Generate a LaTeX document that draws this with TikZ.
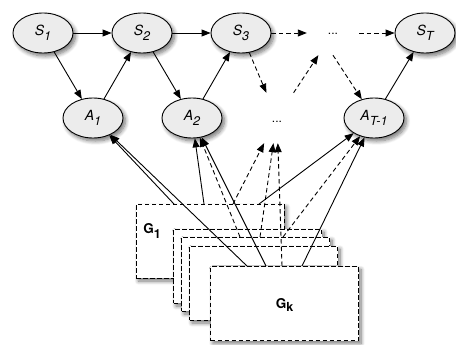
\documentclass[tikz,border=0pt]{standalone}
\usepackage{fontspec}
\setmainfont{TeX Gyre Heros}
\usetikzlibrary{arrows.meta,shapes.geometric,shadows.blur}
\newcommand{\lsub}[2][4.5pt]{\raisebox{-#1}{\fontsize{12.5}{13}\selectfont #2}}
\begin{document}
\begin{tikzpicture}[x=1pt,y=-1pt,
  stnode/.style={ellipse, draw, line width=0.9pt, fill=gray!15,
    minimum width=60pt, minimum height=40pt, inner sep=0pt,
    blur shadow={shadow xshift=2.5pt, shadow yshift=-3pt, shadow blur radius=4pt, shadow blur steps=8, shadow opacity=55},
    font=\fontsize{14}{15}\selectfont\itshape},
  dots/.style={rectangle, inner sep=0pt, font=\fontsize{12}{12}\selectfont},
  gbox/.style={rectangle, draw, dash pattern=on 4.5pt off 2.5pt, line width=1pt,
    fill=white, minimum width=148pt, minimum height=74pt, inner sep=0pt,
    blur shadow={shadow xshift=2.5pt, shadow yshift=-3pt, shadow blur radius=4pt, shadow blur steps=8, shadow opacity=55},
    font=\fontsize{13.5}{14}\selectfont\bfseries},
  glab/.style={inner sep=0pt, font=\fontsize{13.5}{14}\selectfont\bfseries},
  conn/.style={-{Triangle[length=9pt,width=7pt]}, line width=0.9pt},
  dconn/.style={conn, dash pattern=on 4.5pt off 3pt}]
\useasboundingbox (0,0) rectangle (456,345);
% states and actions
\node[stnode] (S1) at (43,33) {S\lsub{1}};
\node[stnode] (S2) at (142,33) {S\lsub{2}};
\node[stnode] (S3) at (241,33) {S\lsub{3}};
\node[dots, minimum width=52pt, minimum height=44pt, text height=4pt, text depth=0pt] (dtop) at (333,33) {...};
\node[stnode] (ST) at (425,33) {S\lsub{T}};
\node[stnode] (A1) at (93,118) {A\lsub{1}};
\node[stnode] (A2) at (192,118) {A\lsub{2}};
\node[dots, minimum width=36pt, minimum height=50pt, text height=10pt, text depth=0pt] (dmid) at (277,118) {...};
\node[stnode] (AT) at (374,118) {A\lsub{T-1}};
% graphs
\node[gbox] (G1) at (210,241) {};
\node[gbox] (R2) at (247.5,266) {};
\node[gbox] (R3) at (255.5,274) {};
\node[gbox] (R4) at (263.5,283) {};
\node[gbox, text height=9pt, text depth=0pt] (GK) at (284.5,303.5) {G\lsub[3pt]{k}};
\node[glab] (G1lab) at (152,231) {G\lsub[5pt]{1}};
% connector start points
\coordinate (g1a) at (174,204);
\coordinate (g1b) at (204,204);
\coordinate (g1c) at (233,204);
\coordinate (g1d) at (259,204);
\coordinate (r3b) at (240,237);
\coordinate (r3c) at (260,237);
\coordinate (r3d) at (283,237);
\coordinate (gka) at (247,266);
\coordinate (gkb) at (266,266);
\coordinate (gkc) at (282,266);
\coordinate (gkd) at (302,266);
% top connectors
\draw[conn] (S1) -- (S2);
\draw[conn] (S2) -- (S3);
\draw[dconn] (S3) -- (dtop);
\draw[dconn] (dtop) -- (ST);
\draw[conn] (S1) -- (A1);
\draw[conn] (A1) -- (S2);
\draw[conn] (S2) -- (A2);
\draw[conn] (A2) -- (S3);
\draw[dconn] (S3) -- (dmid);
\draw[dconn] (dmid) -- (dtop);
\draw[dconn] (dtop.south) -- (AT);
\draw[conn] (AT) -- (ST);
% graph connectors
\draw[conn] (g1a) -- (A1);
\draw[conn] (gka) -- (A1);
\draw[conn] (g1b) -- (A2);
\draw[conn] (gkb) -- (A2);
\draw[dconn] (r3b) -- (A2);
\draw[dconn] (g1c) -- (dmid);
\draw[dconn] (r3c) -- (dmid);
\draw[dconn] (gkc) -- (dmid);
\draw[conn] (g1d) -- (AT);
\draw[dconn] (r3d) -- (AT);
\draw[conn] (gkd) -- (AT);
\end{tikzpicture}
\end{document}
